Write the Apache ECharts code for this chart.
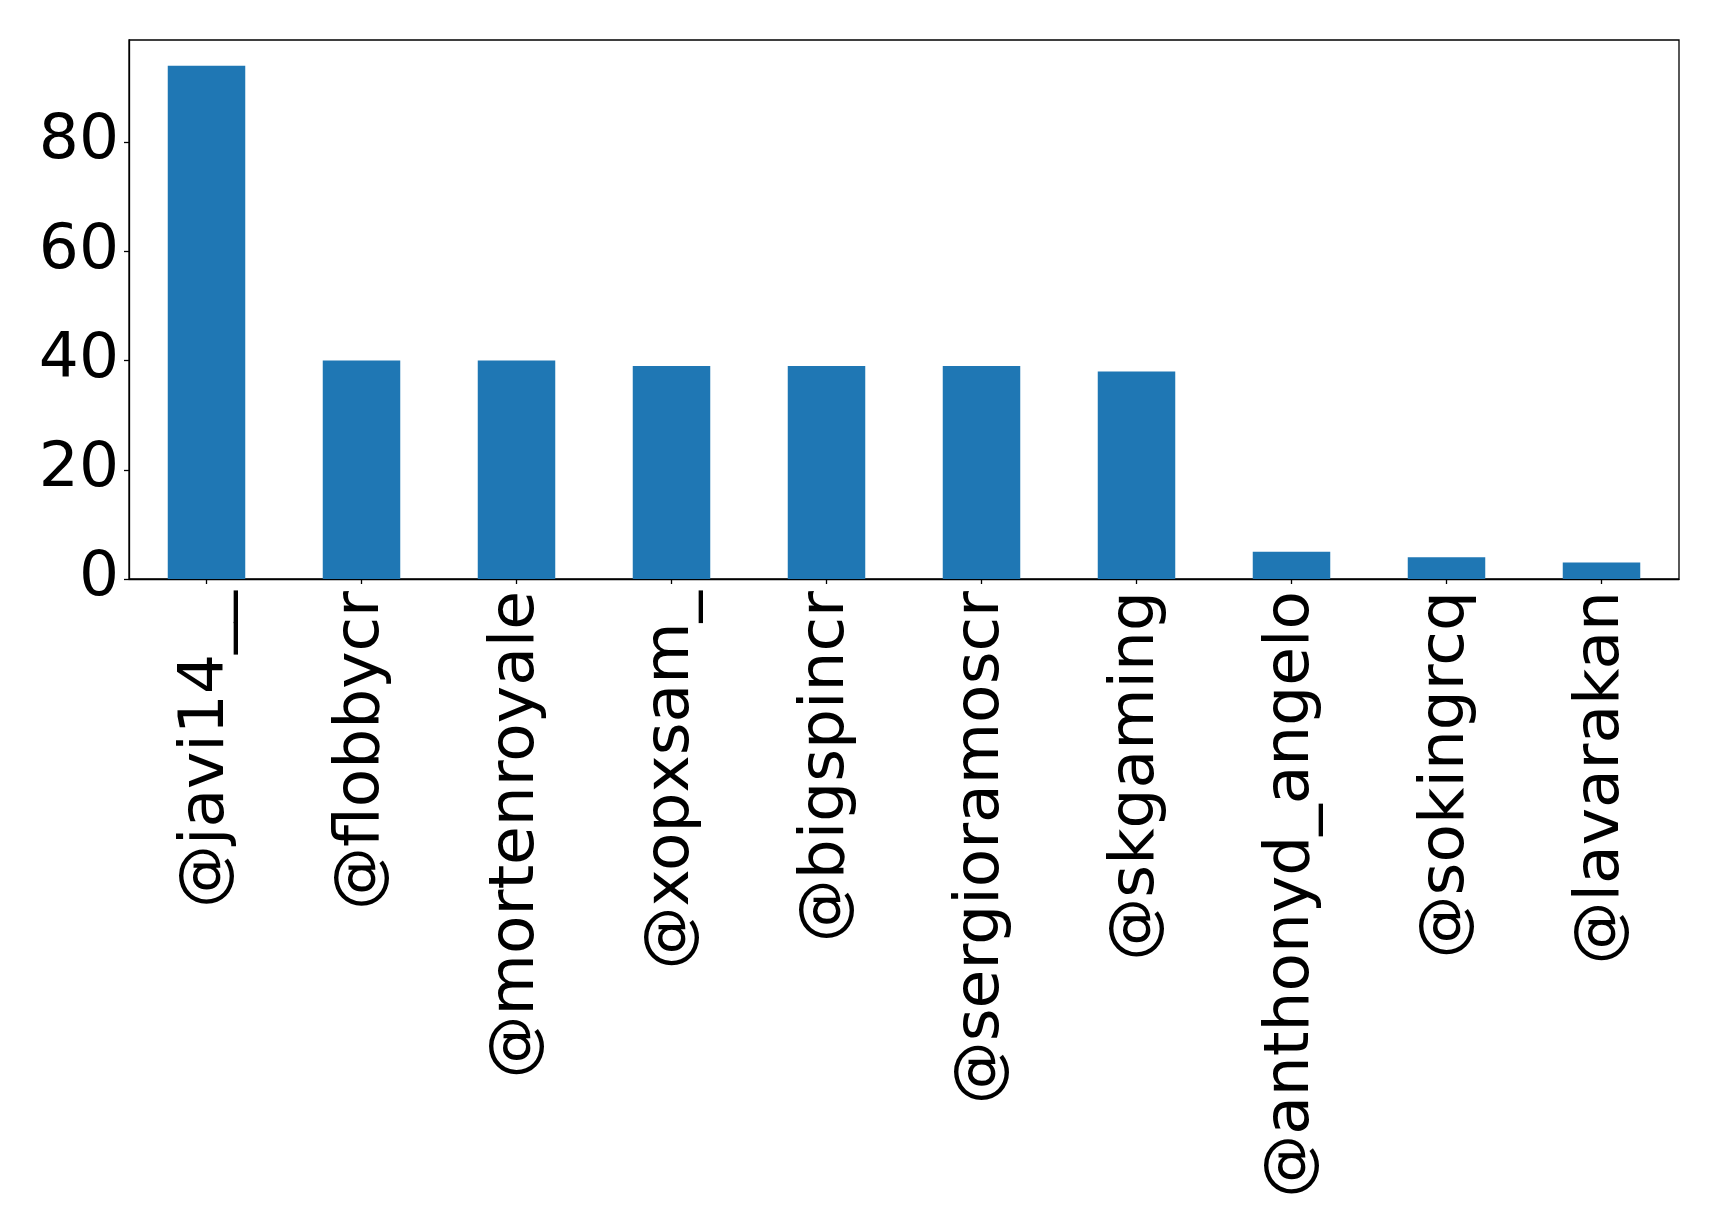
<!DOCTYPE html>
<html>
<head>
<meta charset="utf-8">
<script src="https://cdn.jsdelivr.net/npm/echarts@6/dist/echarts.min.js"></script>
<style>
html,body{margin:0;padding:0;background:#fff;}
#chart{width:1719px;height:1230px;}
</style>
</head>
<body>
<div id="chart"></div>
<script>
const categories = ['@javi14__', '@flobbycr', '@mortenroyale', '@xopxsam_', '@bigspincr', '@sergioramoscr', '@skgaming', '@anthonyd_angelo', '@sokingrcq', '@lavarakan'];
const values = [94, 40, 40, 39, 39, 39, 38, 5, 4, 3];
const yTicks = [0, 20, 40, 60, 80];

const chart = echarts.init(document.getElementById('chart'));
const font = 'DejaVu Sans';
chart.setOption({
  animation: false,
  backgroundColor: '#fff',
  grid: {
    left: 129, top: 40, right: 40, bottom: 651,
    show: true, borderColor: '#000', borderWidth: 1.3, backgroundColor: 'transparent'
  },
  xAxis: {
    type: 'category',
    data: categories,
    boundaryGap: true,
    axisLine: { show: true, lineStyle: { color: '#000', width: 1.3 } },
    axisTick: { show: true, alignWithLabel: true, length: 5, lineStyle: { color: '#000', width: 1.3 } },
    axisLabel: { rotate: 90, fontSize: 63, fontFamily: font, color: '#000', margin: 12, interval: 0 },
    splitLine: { show: false }
  },
  yAxis: {
    type: 'value',
    min: 0,
    max: 98.7,
    interval: 20,
    axisLine: { show: true, lineStyle: { color: '#000', width: 1.3 } },
    axisTick: { show: true, length: 5, lineStyle: { color: '#000', width: 1.3 }, customValues: yTicks },
    axisLabel: { fontSize: 63, fontFamily: font, color: '#000', margin: 10, customValues: yTicks },
    splitLine: { show: false }
  },
  series: [{
    type: 'bar',
    data: values,
    barWidth: '50%',
    itemStyle: { color: '#1f77b4' }
  }]
});
</script>
</body>
</html>
